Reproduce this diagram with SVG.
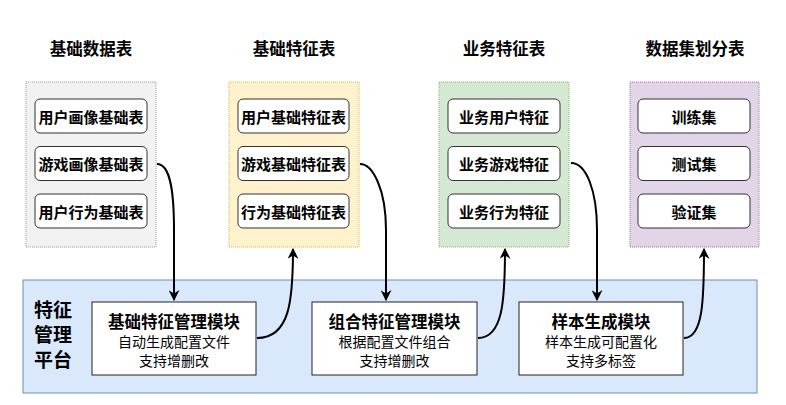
<svg xmlns="http://www.w3.org/2000/svg" width="786" height="405" viewBox="0 0 786 405">
<defs>
<style>
text{font-family:"Noto Sans CJK SC","Liberation Sans",sans-serif;text-anchor:middle;dominant-baseline:central;fill:#000}
.title{font-size:16.5px;font-weight:bold}
.item{fill:#fff;stroke:#333;stroke-width:1}
.itext{font-size:15px;font-weight:bold}
.grp{stroke-width:1;stroke-dasharray:1 1}
.mod{fill:#fff;stroke:#222;stroke-width:1}
.mt{font-size:16.5px;font-weight:bold}
.ms{font-size:14px}
.pt{font-size:19px;font-weight:bold}
.edge{fill:none;stroke:#000;stroke-width:2;marker-end:url(#arr)}
</style>
<marker id="arr" viewBox="0 0 10 10" refX="9" refY="5" markerWidth="5.5" markerHeight="5.5" orient="auto" markerUnits="strokeWidth">
<path d="M0,0 L10,5 L0,10 L3,5 Z" fill="#000"/>
</marker>
</defs>
<rect width="786" height="405" fill="#fff"/>

<g id="platform">
<rect x="23" y="280" width="734" height="113" fill="#dae8fc" stroke="#6c8ebf"/>
<text class="pt" x="53" y="308">特征</text>
<text class="pt" x="53" y="333">管理</text>
<text class="pt" x="53" y="358">平台</text>
</g>

<g id="col1">
<text class="title" x="91" y="48">基础数据表</text>
<rect class="grp" x="26" y="82" width="130" height="165" fill="#f2f2f2" stroke="#999"/>
<rect class="item" x="35" y="99" width="112" height="34" rx="5"/>
<text class="itext" x="91" y="116">用户画像基础表</text>
<rect class="item" x="35" y="146.5" width="112" height="34" rx="5"/>
<text class="itext" x="91" y="163.5">游戏画像基础表</text>
<rect class="item" x="35" y="194" width="112" height="34" rx="5"/>
<text class="itext" x="91" y="211">用户行为基础表</text>
</g>

<g id="col2">
<text class="title" x="294" y="48">基础特征表</text>
<rect class="grp" x="229" y="82" width="130" height="165" fill="#fff2cc" stroke="#d6b656"/>
<rect class="item" x="238" y="99" width="111" height="34" rx="5"/>
<text class="itext" x="293.5" y="116">用户基础特征表</text>
<rect class="item" x="238" y="146.5" width="111" height="34" rx="5"/>
<text class="itext" x="293.5" y="163.5">游戏基础特征表</text>
<rect class="item" x="238" y="194" width="111" height="34" rx="5"/>
<text class="itext" x="293.5" y="211">行为基础特征表</text>
</g>

<g id="col3">
<text class="title" x="504" y="48">业务特征表</text>
<rect class="grp" x="439" y="82" width="130" height="165" fill="#d5e8d4" stroke="#82b366"/>
<rect class="item" x="448" y="99" width="112" height="34" rx="5"/>
<text class="itext" x="504" y="116">业务用户特征</text>
<rect class="item" x="448" y="146.5" width="112" height="34" rx="5"/>
<text class="itext" x="504" y="163.5">业务游戏特征</text>
<rect class="item" x="448" y="194" width="112" height="34" rx="5"/>
<text class="itext" x="504" y="211">业务行为特征</text>
</g>

<g id="col4">
<text class="title" x="695" y="48">数据集划分表</text>
<rect class="grp" x="630" y="82" width="129" height="165" fill="#e1d5e7" stroke="#9673a6"/>
<rect class="item" x="638" y="99" width="112" height="34" rx="5"/>
<text class="itext" x="694" y="116">训练集</text>
<rect class="item" x="638" y="146.5" width="112" height="34" rx="5"/>
<text class="itext" x="694" y="163.5">测试集</text>
<rect class="item" x="638" y="194" width="112" height="34" rx="5"/>
<text class="itext" x="694" y="211">验证集</text>
</g>

<g id="mod1">
<rect class="mod" x="92" y="302" width="164" height="73"/>
<text class="mt" x="174" y="320.5">基础特征管理模块</text>
<text class="ms" x="174" y="341">自动生成配置文件</text>
<text class="ms" x="174" y="359.5">支持增删改</text>
</g>
<g id="mod2">
<rect class="mod" x="312" y="302" width="165" height="73"/>
<text class="mt" x="394.5" y="320.5">组合特征管理模块</text>
<text class="ms" x="394.5" y="341">根据配置文件组合</text>
<text class="ms" x="394.5" y="359.5">支持增删改</text>
</g>
<g id="mod3">
<rect class="mod" x="519" y="302" width="164" height="73"/>
<text class="mt" x="601" y="320.5">样本生成模块</text>
<text class="ms" x="601" y="341">样本生成可配置化</text>
<text class="ms" x="601" y="359.5">支持多标签</text>
</g>

<g id="connectors">
<path class="edge" d="M157,164 C170,164 174,190 174,230 L174,300"/>
<path class="edge" d="M257,338 C290,338 293,300 293,249"/>
<path class="edge" d="M360,164 C373,164 386,190 386,230 L386,300"/>
<path class="edge" d="M478,338 C503,338 505,300 505,249"/>
<path class="edge" d="M571,163 C586,163 597,190 597,230 L597,300"/>
<path class="edge" d="M684,338 C703,338 704,300 704,249"/>
</g>
</svg>
